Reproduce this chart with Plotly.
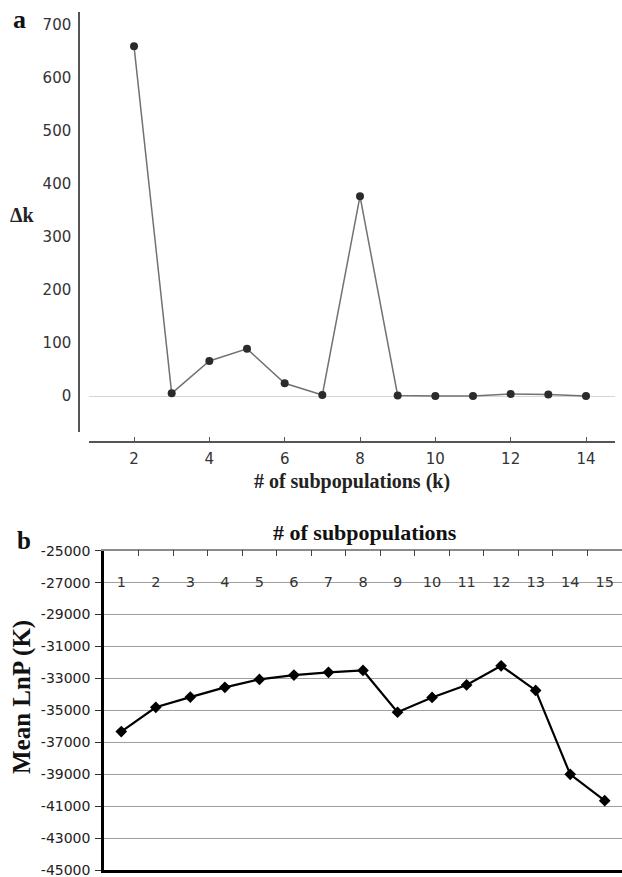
import plotly.graph_objects as go

# Panel a data
k_a = [2, 3, 4, 5, 6, 7, 8, 9, 10, 11, 12, 13, 14]
delta_k = [660, 5, 66, 89, 24, 2, 377, 1, 0, 0, 4, 3, 0]
a_xticks = [2, 4, 6, 8, 10, 12, 14]
a_yticks = [0, 100, 200, 300, 400, 500, 600, 700]

# Panel b data
k_b = [1, 2, 3, 4, 5, 6, 7, 8, 9, 10, 11, 12, 13, 14, 15]
mean_lnp = [-36330, -34810, -34170, -33560, -33060, -32790, -32620, -32500,
            -35120, -34190, -33410, -32210, -33750, -39010, -40660]
b_yticks = list(range(-45000, -24999, 2000))

W, H = 622, 877
def px(x): return x / W
def py(y): return 1 - y / H

fig = go.Figure()

fig.add_trace(go.Scatter(
    x=k_a, y=delta_k, mode="lines+markers", xaxis="x", yaxis="y",
    line=dict(color="#727272", width=1.5),
    marker=dict(color="#2b2b2b", size=8, symbol="circle"),
    showlegend=False, cliponaxis=False))

fig.add_trace(go.Scatter(
    x=k_b, y=mean_lnp, mode="lines+markers", xaxis="x2", yaxis="y2",
    line=dict(color="#000000", width=2.2),
    marker=dict(color="#000000", size=9, symbol="diamond"),
    showlegend=False, cliponaxis=False))

# empty helper traces so the overlaying axes (bottom frame line, category labels) get drawn
for ax in ("x3", "x4"):
    fig.add_trace(go.Scatter(x=[], y=[], xaxis=ax, yaxis="y2", mode="markers",
                             showlegend=False, hoverinfo="skip"))

fig.update_layout(
    width=W, height=H, margin=dict(l=0, r=0, t=0, b=0, autoexpand=False),
    paper_bgcolor="white", plot_bgcolor="rgba(0,0,0,0)",
    xaxis=dict(
        domain=[px(89), px(615)], range=[0.805, 14.77], automargin=False,
        anchor="free", position=py(442),
        tickvals=a_xticks, ticks="inside", ticklen=4, tickcolor="#555",
        showline=True, linecolor="#555", linewidth=1.5, showgrid=False, zeroline=False,
        tickfont=dict(family="DejaVu Sans", size=15, color="#333"),
        ticklabelstandoff=3,
        title=dict(text="<b># of subpopulations (k)</b>",
                   font=dict(family="Liberation Serif", size=20, color="#222"), standoff=6),
    ),
    yaxis=dict(
        domain=[py(432), py(12)], range=[-67.9, 724.5], automargin=False,
        anchor="free", position=px(79),
        tickvals=a_yticks, ticks="", showline=True, linecolor="#555", linewidth=1.5,
        showgrid=False, zeroline=True, zerolinecolor="#d6d6d6", zerolinewidth=1,
        tickfont=dict(family="DejaVu Sans", size=15, color="#333"),
        ticklabelstandoff=4,
    ),
    xaxis2=dict(
        domain=[px(104), 1.0], range=[0.5, 15.5], anchor="y2", side="top", automargin=False,
        tickvals=k_b, showticklabels=False, ticks="inside", ticklen=0,
        minor=dict(tickvals=[k - 0.5 for k in k_b] + [k_b[-1] + 0.5], ticks="inside",
                   ticklen=6, tickcolor="#444", tickwidth=1.2, showgrid=False),
        showline=True, linecolor="#8c8c8c", linewidth=1.5, showgrid=False, zeroline=False,
    ),
    xaxis3=dict(
        domain=[px(104), 1.0], range=[0.5, 15.5], anchor="y2", side="bottom", automargin=False,
        overlaying="x2", showline=True, linecolor="#000", linewidth=2.5,
        showticklabels=False, ticks="", showgrid=False, zeroline=False,
    ),
    xaxis4=dict(
        domain=[px(104), 1.0], range=[0.5, 15.5], anchor="free", position=py(571),
        side="bottom", overlaying="x2", automargin=False,
        tickvals=k_b, ticktext=[str(k) for k in k_b], ticks="",
        showline=False, showgrid=False, zeroline=False,
        tickfont=dict(family="DejaVu Sans", size=14.5, color="#333"),
        ticklabeloverflow="allow",
    ),
    yaxis2=dict(
        domain=[py(870), py(550.7)], range=[-45000, -25000], anchor="x2", automargin=False,
        tickvals=b_yticks, ticktext=[str(v) for v in b_yticks],
        ticks="outside", ticklen=6, tickcolor="#333",
        showline=True, linecolor="#000", linewidth=2.5,
        showgrid=True, gridcolor="#a0a0a0", gridwidth=1.3, zeroline=False,
        tickfont=dict(family="DejaVu Sans", size=14, color="#222"),
        ticklabelstandoff=2, ticklabeloverflow="allow",
    ),
    annotations=[
        dict(text="<b>a</b>", x=px(19), y=py(19), xref="paper", yref="paper",
             xanchor="center", yanchor="middle", showarrow=False,
             font=dict(family="Liberation Serif", size=26, color="#111")),
        dict(text="<b>b</b>", x=px(24), y=py(540), xref="paper", yref="paper",
             xanchor="center", yanchor="middle", showarrow=False,
             font=dict(family="Liberation Serif", size=25, color="#111")),
        dict(text="<b>Δk</b>", x=px(22), y=py(215), xref="paper", yref="paper",
             xanchor="center", yanchor="middle", showarrow=False,
             font=dict(family="Liberation Serif", size=20, color="#222")),
        dict(text="<b>Mean LnP (K)</b>", x=px(22), y=py(697), xref="paper", yref="paper",
             xanchor="center", yanchor="middle", textangle=-90, showarrow=False,
             font=dict(family="Liberation Serif", size=25, color="#111")),
        dict(text="<b># of subpopulations</b>", x=px(365), y=py(532), xref="paper", yref="paper",
             xanchor="center", yanchor="middle", showarrow=False,
             font=dict(family="Liberation Serif", size=22, color="#111")),
    ],
)

fig.write_html("out.html")
